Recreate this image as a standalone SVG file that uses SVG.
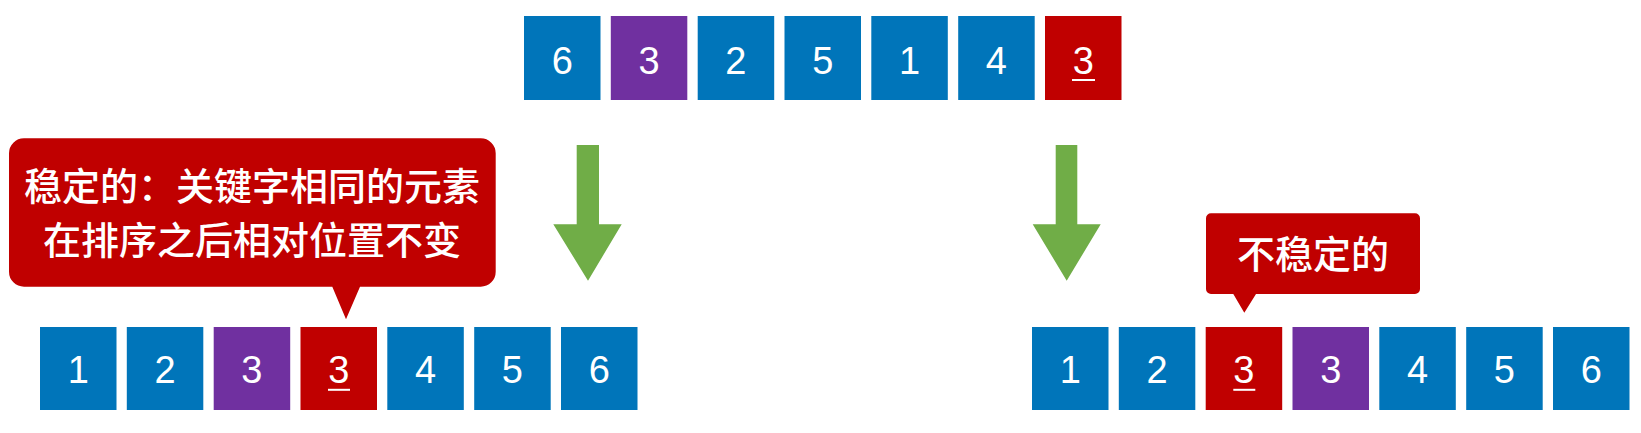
<svg xmlns="http://www.w3.org/2000/svg" width="1641" height="433" viewBox="0 0 1641 433">
<style>
.blue{fill:#0075BA}
.purple{fill:#7030A0}
.red{fill:#C00000}
.num{font-family:"Liberation Sans",Arial,sans-serif;font-size:38px;fill:#FFFFFF;text-anchor:middle}
.ul{fill:#FFFFFF}
.arrow{fill:#70AD47}
.cjk{font-family:"Noto Sans CJK SC","Noto Sans",sans-serif;font-size:38px;font-weight:500;fill:#FFFFFF;text-anchor:middle}
</style>
<rect x="0" y="0" width="1641" height="433" fill="#FFFFFF"/>

<!-- top row -->
<g id="top-6"><rect class="blue" x="524" y="16" width="76.5" height="84"/><text class="num" x="562.2" y="73.5">6</text></g>
<g id="top-3a"><rect class="purple" x="610.8" y="16" width="76.5" height="84"/><text class="num" x="649" y="73.5">3</text></g>
<g id="top-2"><rect class="blue" x="697.7" y="16" width="76.5" height="84"/><text class="num" x="735.9" y="73.5">2</text></g>
<g id="top-5"><rect class="blue" x="784.5" y="16" width="76.5" height="84"/><text class="num" x="822.7" y="73.5">5</text></g>
<g id="top-1"><rect class="blue" x="871.3" y="16" width="76.5" height="84"/><text class="num" x="909.5" y="73.5">1</text></g>
<g id="top-4"><rect class="blue" x="958.2" y="16" width="76.5" height="84"/><text class="num" x="996.4" y="73.5">4</text></g>
<g id="top-3b"><rect class="red" x="1045" y="16" width="76.5" height="84"/><text class="num" x="1083.2" y="73.5">3</text><rect class="ul" x="1072" y="79" width="23" height="2"/></g>

<!-- bottom-left row (stable) -->
<g id="stable-1"><rect class="blue" x="40" y="327" width="76.5" height="83"/><text class="num" x="78.2" y="383.3">1</text></g>
<g id="stable-2"><rect class="blue" x="126.8" y="327" width="76.5" height="83"/><text class="num" x="165" y="383.3">2</text></g>
<g id="stable-3a"><rect class="purple" x="213.7" y="327" width="76.5" height="83"/><text class="num" x="251.9" y="383.3">3</text></g>
<g id="stable-3b"><rect class="red" x="300.5" y="327" width="76.5" height="83"/><text class="num" x="338.7" y="383.3">3</text><rect class="ul" x="328" y="388.8" width="22" height="2"/></g>
<g id="stable-4"><rect class="blue" x="387.3" y="327" width="76.5" height="83"/><text class="num" x="425.5" y="383.3">4</text></g>
<g id="stable-5"><rect class="blue" x="474.2" y="327" width="76.5" height="83"/><text class="num" x="512.4" y="383.3">5</text></g>
<g id="stable-6"><rect class="blue" x="561" y="327" width="76.5" height="83"/><text class="num" x="599.2" y="383.3">6</text></g>

<!-- bottom-right row (unstable) -->
<g id="unstable-1"><rect class="blue" x="1032" y="327" width="76.5" height="83"/><text class="num" x="1070.2" y="383.3">1</text></g>
<g id="unstable-2"><rect class="blue" x="1118.8" y="327" width="76.5" height="83"/><text class="num" x="1157" y="383.3">2</text></g>
<g id="unstable-3b"><rect class="red" x="1205.7" y="327" width="76.5" height="83"/><text class="num" x="1243.9" y="383.3">3</text><rect class="ul" x="1233.3" y="388.8" width="22" height="2"/></g>
<g id="unstable-3a"><rect class="purple" x="1292.5" y="327" width="76.5" height="83"/><text class="num" x="1330.7" y="383.3">3</text></g>
<g id="unstable-4"><rect class="blue" x="1379.3" y="327" width="76.5" height="83"/><text class="num" x="1417.5" y="383.3">4</text></g>
<g id="unstable-5"><rect class="blue" x="1466.2" y="327" width="76.5" height="83"/><text class="num" x="1504.4" y="383.3">5</text></g>
<g id="unstable-6"><rect class="blue" x="1553" y="327" width="76.5" height="83"/><text class="num" x="1591.2" y="383.3">6</text></g>

<!-- callouts -->
<g id="callout-stable">
<path class="red" d="M24,138.3 H480.7 A15,15 0 0 1 495.7,153.3 V271.7 A15,15 0 0 1 480.7,286.7 H360 L346,319.3 L332.3,286.7 H24 A15,15 0 0 1 9,271.7 V153.3 A15,15 0 0 1 24,138.3 Z"/>
<text class="cjk" x="252" y="200">稳定的：关键字相同的元素</text>
<text class="cjk" x="252" y="253.5">在排序之后相对位置不变</text>
</g>
<g id="callout-unstable">
<path class="red" d="M1211,213.3 H1415 A5,5 0 0 1 1420,218.3 V289 A5,5 0 0 1 1415,294 H1256 L1244.3,312.7 L1233.3,294 H1211 A5,5 0 0 1 1206,289 V218.3 A5,5 0 0 1 1211,213.3 Z"/>
<text class="cjk" x="1313" y="268">不稳定的</text>
</g>

<!-- connectors -->
<g id="connectors">
<polygon class="arrow" points="576.7,145 599,145 599,224.3 621.7,224.3 588,280.7 553.3,224.3 576.7,224.3"/>
<polygon class="arrow" points="1055.7,145 1077.3,145 1077.3,224.3 1100.7,224.3 1066.7,280.7 1032.7,224.3 1055.7,224.3"/>
</g>
</svg>
